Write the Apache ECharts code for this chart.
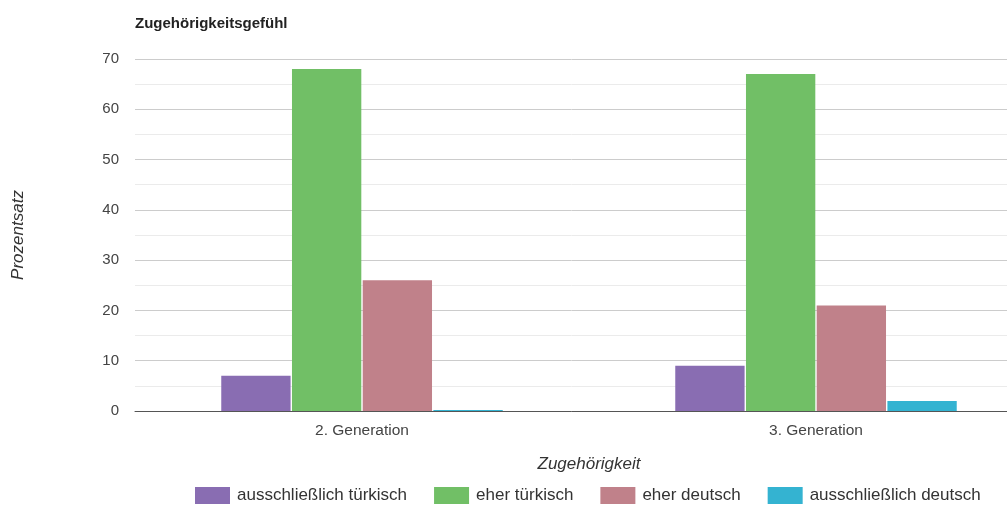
<!DOCTYPE html>
<html>
<head>
<meta charset="utf-8">
<script src="https://cdn.jsdelivr.net/npm/echarts@6/dist/echarts.min.js"></script>
<style>html,body{margin:0;padding:0;background:#fff}#c{width:1007px;height:506px}</style>
</head>
<body>
<div id="c"></div>
<script>
const categories = ['2. Generation', '3. Generation'];
const seriesNames = ['ausschließlich türkisch', 'eher türkisch', 'eher deutsch', 'ausschließlich deutsch'];
const ausschliesslichTuerkisch = [7, 9];
const eherTuerkisch = [68, 67];
const eherDeutsch = [26, 21];
const ausschliesslichDeutsch = [0.2, 2];
const yTicks = [0, 10, 20, 30, 40, 50, 60, 70];
const colors = ['#896db2', '#71bf66', '#c0818a', '#34b3d1'];
const values = [ausschliesslichTuerkisch, eherTuerkisch, eherDeutsch, ausschliesslichDeutsch];

const font = 'Liberation Sans, Arial, sans-serif';
const chart = echarts.init(document.getElementById('c'), null, {renderer: 'canvas'});
chart.setOption({
  animation: false,
  color: colors,
  title: {
    text: 'Zugehörigkeitsgefühl', left: 130, top: 11,
    textStyle: {fontFamily: font, fontSize: 15, fontWeight: 'bold', color: '#222'}
  },
  legend: {
    left: 190, top: 482, itemWidth: 35, itemHeight: 17, itemGap: 27,
    icon: 'rect',
    textStyle: {fontFamily: font, fontSize: 17, color: '#333', padding: [0, 0, 0, 2]},
    data: seriesNames
  },
  grid: {left: 135, top: 59, width: 908, height: 352, containLabel: false, outerBoundsMode: 'none'},
  xAxis: {
    type: 'category', data: categories,
    name: 'Zugehörigkeit', nameLocation: 'middle', nameGap: 45,
    nameTextStyle: {fontFamily: font, fontSize: 17, fontStyle: 'italic', color: '#333'},
    axisLine: {lineStyle: {color: '#555', width: 1}},
    axisTick: {show: false},
    axisLabel: {fontFamily: font, fontSize: 15.5, color: '#444', margin: 12}
  },
  yAxis: {
    type: 'value', min: yTicks[0], max: yTicks[yTicks.length - 1], interval: 10,
    name: 'Prozentsatz', nameLocation: 'middle', nameGap: 108,
    nameTextStyle: {fontFamily: font, fontSize: 17, fontStyle: 'italic', color: '#333'},
    axisLine: {show: false}, axisTick: {show: false},
    axisLabel: {fontFamily: font, fontSize: 15, color: '#444', margin: 16},
    splitLine: {lineStyle: {color: '#cccccc'}},
    minorTick: {show: false, splitNumber: 2},
    minorSplitLine: {show: true, lineStyle: {color: '#ebebeb'}}
  },
  series: seriesNames.map((n, i) => ({
    name: n, type: 'bar', data: values[i],
    barGap: '2%', barCategoryGap: '38%'
  }))
});
</script>
</body>
</html>
